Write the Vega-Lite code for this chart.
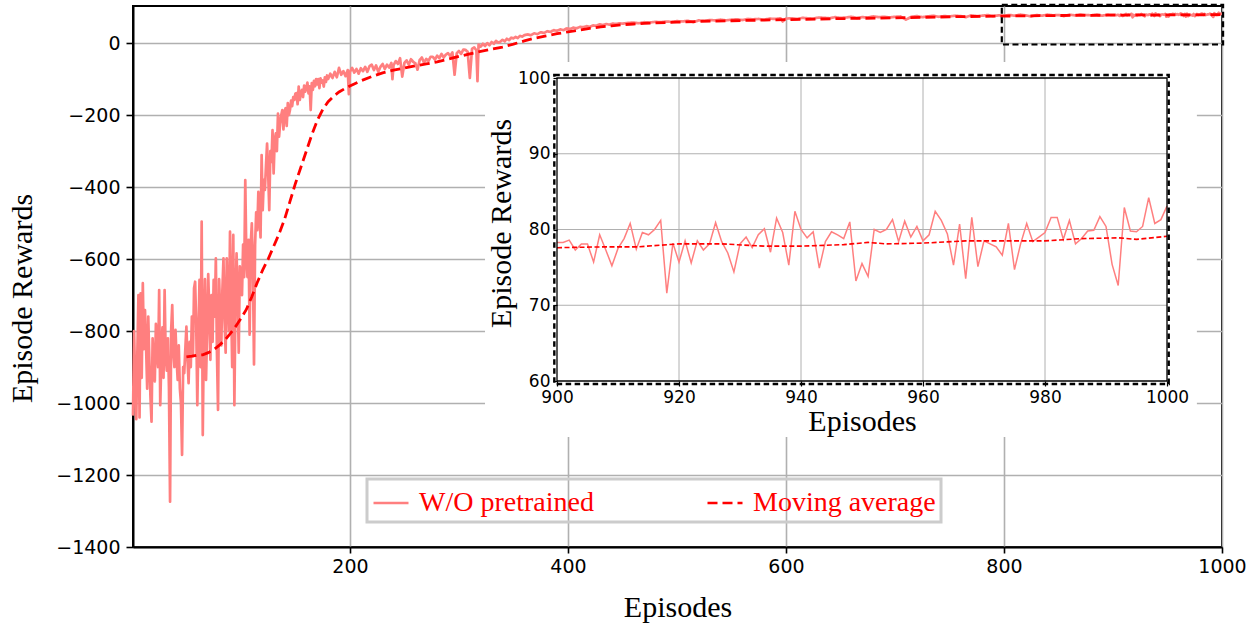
{
"$schema": "https://vega.github.io/schema/vega-lite/v6.json",
"width": 1089, "height": 541,
"autosize": {"type": "none"},
"padding": {"left": 133, "top": 6, "right": 35, "bottom": 76},
"background": "white",
"config": {
  "view": {"stroke": "black", "strokeWidth": 2},
  "axis": {"labelFont": "DejaVu Sans", "labelColor": "black", "tickColor": "black", "domainColor": "black", "titleFont": "Liberation Serif", "titleFontWeight": "normal", "titleColor": "black", "labelFlush": false, "format": "d"},
  "legend": {"strokeColor": "#cccccc", "strokeWidth": 3}
},
"datasets": {
"d": [
{"e":1,"r":-1035,"s":"W/O pretrained"},{"e":2,"r":-800,"s":"W/O pretrained"},{"e":3,"r":-940,"s":"W/O pretrained"},{"e":4,"r":-1045,"s":"W/O pretrained"},{"e":5,"r":-860,"s":"W/O pretrained"},{"e":6,"r":-700,"s":"W/O pretrained"},{"e":7,"r":-1040,"s":"W/O pretrained"},{"e":8,"r":-695,"s":"W/O pretrained"},{"e":9,"r":-930,"s":"W/O pretrained"},{"e":10,"r":-667,"s":"W/O pretrained"},
{"e":11,"r":-850,"s":"W/O pretrained"},{"e":12,"r":-742,"s":"W/O pretrained"},{"e":13,"r":-843,"s":"W/O pretrained"},{"e":14,"r":-960,"s":"W/O pretrained"},{"e":15,"r":-760,"s":"W/O pretrained"},{"e":16,"r":-880,"s":"W/O pretrained"},{"e":17,"r":-982,"s":"W/O pretrained"},{"e":18,"r":-1052,"s":"W/O pretrained"},{"e":19,"r":-820,"s":"W/O pretrained"},{"e":20,"r":-900,"s":"W/O pretrained"},
{"e":21,"r":-940,"s":"W/O pretrained"},{"e":22,"r":-780,"s":"W/O pretrained"},{"e":23,"r":-860,"s":"W/O pretrained"},{"e":24,"r":-900,"s":"W/O pretrained"},{"e":25,"r":-686,"s":"W/O pretrained"},{"e":26,"r":-1006,"s":"W/O pretrained"},{"e":27,"r":-880,"s":"W/O pretrained"},{"e":28,"r":-790,"s":"W/O pretrained"},{"e":29,"r":-930,"s":"W/O pretrained"},{"e":30,"r":-686,"s":"W/O pretrained"},
{"e":31,"r":-870,"s":"W/O pretrained"},{"e":32,"r":-910,"s":"W/O pretrained"},{"e":33,"r":-820,"s":"W/O pretrained"},{"e":34,"r":-960,"s":"W/O pretrained"},{"e":35,"r":-1274,"s":"W/O pretrained"},{"e":36,"r":-797,"s":"W/O pretrained"},{"e":37,"r":-728,"s":"W/O pretrained"},{"e":38,"r":-860,"s":"W/O pretrained"},{"e":39,"r":-900,"s":"W/O pretrained"},{"e":40,"r":-797,"s":"W/O pretrained"},
{"e":41,"r":-880,"s":"W/O pretrained"},{"e":42,"r":-936,"s":"W/O pretrained"},{"e":43,"r":-840,"s":"W/O pretrained"},{"e":44,"r":-960,"s":"W/O pretrained"},{"e":45,"r":-1000,"s":"W/O pretrained"},{"e":46,"r":-1144,"s":"W/O pretrained"},{"e":47,"r":-900,"s":"W/O pretrained"},{"e":48,"r":-917,"s":"W/O pretrained"},{"e":49,"r":-850,"s":"W/O pretrained"},{"e":50,"r":-788,"s":"W/O pretrained"},
{"e":51,"r":-880,"s":"W/O pretrained"},{"e":52,"r":-945,"s":"W/O pretrained"},{"e":53,"r":-830,"s":"W/O pretrained"},{"e":54,"r":-900,"s":"W/O pretrained"},{"e":55,"r":-760,"s":"W/O pretrained"},{"e":56,"r":-870,"s":"W/O pretrained"},{"e":57,"r":-681,"s":"W/O pretrained"},{"e":58,"r":-663,"s":"W/O pretrained"},{"e":59,"r":-780,"s":"W/O pretrained"},{"e":60,"r":-1006,"s":"W/O pretrained"},
{"e":61,"r":-820,"s":"W/O pretrained"},{"e":62,"r":-658,"s":"W/O pretrained"},{"e":63,"r":-900,"s":"W/O pretrained"},{"e":64,"r":-496,"s":"W/O pretrained"},{"e":65,"r":-1089,"s":"W/O pretrained"},{"e":66,"r":-810,"s":"W/O pretrained"},{"e":67,"r":-656,"s":"W/O pretrained"},{"e":68,"r":-936,"s":"W/O pretrained"},{"e":69,"r":-800,"s":"W/O pretrained"},{"e":70,"r":-642,"s":"W/O pretrained"},
{"e":71,"r":-750,"s":"W/O pretrained"},{"e":72,"r":-880,"s":"W/O pretrained"},{"e":73,"r":-700,"s":"W/O pretrained"},{"e":74,"r":-830,"s":"W/O pretrained"},{"e":75,"r":-658,"s":"W/O pretrained"},{"e":76,"r":-760,"s":"W/O pretrained"},{"e":77,"r":-598,"s":"W/O pretrained"},{"e":78,"r":-860,"s":"W/O pretrained"},{"e":79,"r":-1019,"s":"W/O pretrained"},{"e":80,"r":-656,"s":"W/O pretrained"},
{"e":81,"r":-750,"s":"W/O pretrained"},{"e":82,"r":-840,"s":"W/O pretrained"},{"e":83,"r":-686,"s":"W/O pretrained"},{"e":84,"r":-598,"s":"W/O pretrained"},{"e":85,"r":-770,"s":"W/O pretrained"},{"e":86,"r":-860,"s":"W/O pretrained"},{"e":87,"r":-598,"s":"W/O pretrained"},{"e":88,"r":-705,"s":"W/O pretrained"},{"e":89,"r":-800,"s":"W/O pretrained"},{"e":90,"r":-524,"s":"W/O pretrained"},
{"e":91,"r":-720,"s":"W/O pretrained"},{"e":92,"r":-900,"s":"W/O pretrained"},{"e":93,"r":-533,"s":"W/O pretrained"},{"e":94,"r":-1006,"s":"W/O pretrained"},{"e":95,"r":-723,"s":"W/O pretrained"},{"e":96,"r":-584,"s":"W/O pretrained"},{"e":97,"r":-700,"s":"W/O pretrained"},{"e":98,"r":-860,"s":"W/O pretrained"},{"e":99,"r":-620,"s":"W/O pretrained"},{"e":100,"r":-658,"s":"W/O pretrained"},
{"e":101,"r":-700,"s":"W/O pretrained"},{"e":102,"r":-560,"s":"W/O pretrained"},{"e":103,"r":-650,"s":"W/O pretrained"},{"e":104,"r":-381,"s":"W/O pretrained"},{"e":105,"r":-600,"s":"W/O pretrained"},{"e":106,"r":-650,"s":"W/O pretrained"},{"e":107,"r":-547,"s":"W/O pretrained"},{"e":108,"r":-810,"s":"W/O pretrained"},{"e":109,"r":-560,"s":"W/O pretrained"},{"e":110,"r":-501,"s":"W/O pretrained"},
{"e":111,"r":-620,"s":"W/O pretrained"},{"e":112,"r":-893,"s":"W/O pretrained"},{"e":113,"r":-560,"s":"W/O pretrained"},{"e":114,"r":-470,"s":"W/O pretrained"},{"e":115,"r":-520,"s":"W/O pretrained"},{"e":116,"r":-413,"s":"W/O pretrained"},{"e":117,"r":-480,"s":"W/O pretrained"},{"e":118,"r":-540,"s":"W/O pretrained"},{"e":119,"r":-311,"s":"W/O pretrained"},{"e":120,"r":-464,"s":"W/O pretrained"},
{"e":121,"r":-380,"s":"W/O pretrained"},{"e":122,"r":-408,"s":"W/O pretrained"},{"e":123,"r":-340,"s":"W/O pretrained"},{"e":124,"r":-279,"s":"W/O pretrained"},{"e":125,"r":-360,"s":"W/O pretrained"},{"e":126,"r":-464,"s":"W/O pretrained"},{"e":127,"r":-300,"s":"W/O pretrained"},{"e":128,"r":-330,"s":"W/O pretrained"},{"e":129,"r":-242,"s":"W/O pretrained"},{"e":130,"r":-362,"s":"W/O pretrained"},
{"e":131,"r":-270,"s":"W/O pretrained"},{"e":132,"r":-251,"s":"W/O pretrained"},{"e":133,"r":-300,"s":"W/O pretrained"},{"e":134,"r":-196,"s":"W/O pretrained"},{"e":135,"r":-260,"s":"W/O pretrained"},{"e":136,"r":-223,"s":"W/O pretrained"},{"e":137,"r":-200,"s":"W/O pretrained"},{"e":138,"r":-186,"s":"W/O pretrained"},{"e":139,"r":-240,"s":"W/O pretrained"},{"e":140,"r":-190,"s":"W/O pretrained"},
{"e":141,"r":-181,"s":"W/O pretrained"},{"e":142,"r":-230,"s":"W/O pretrained"},{"e":143,"r":-167,"s":"W/O pretrained"},{"e":144,"r":-200,"s":"W/O pretrained"},{"e":145,"r":-186,"s":"W/O pretrained"},{"e":146,"r":-160,"s":"W/O pretrained"},{"e":147,"r":-175,"s":"W/O pretrained"},{"e":148,"r":-150,"s":"W/O pretrained"},{"e":149,"r":-158,"s":"W/O pretrained"},{"e":150,"r":-140,"s":"W/O pretrained"},
{"e":151,"r":-139,"s":"W/O pretrained"},{"e":152,"r":-170,"s":"W/O pretrained"},{"e":153,"r":-121,"s":"W/O pretrained"},{"e":154,"r":-158,"s":"W/O pretrained"},{"e":155,"r":-140,"s":"W/O pretrained"},{"e":156,"r":-130,"s":"W/O pretrained"},{"e":157,"r":-150,"s":"W/O pretrained"},{"e":158,"r":-118,"s":"W/O pretrained"},{"e":159,"r":-135,"s":"W/O pretrained"},{"e":160,"r":-125,"s":"W/O pretrained"},
{"e":161,"r":-110,"s":"W/O pretrained"},{"e":162,"r":-140,"s":"W/O pretrained"},{"e":163,"r":-120,"s":"W/O pretrained"},{"e":164,"r":-186,"s":"W/O pretrained"},{"e":165,"r":-111,"s":"W/O pretrained"},{"e":166,"r":-130,"s":"W/O pretrained"},{"e":167,"r":-105,"s":"W/O pretrained"},{"e":168,"r":-120,"s":"W/O pretrained"},{"e":169,"r":-100,"s":"W/O pretrained"},{"e":170,"r":-115,"s":"W/O pretrained"},
{"e":171,"r":-100,"s":"W/O pretrained"},{"e":172,"r":-125,"s":"W/O pretrained"},{"e":173,"r":-98,"s":"W/O pretrained"},{"e":174,"r":-110,"s":"W/O pretrained"},{"e":175,"r":-104,"s":"W/O pretrained"},{"e":176,"r":-121,"s":"W/O pretrained"},{"e":177,"r":-95,"s":"W/O pretrained"},{"e":178,"r":-108,"s":"W/O pretrained"},{"e":179,"r":-90,"s":"W/O pretrained"},{"e":180,"r":-100,"s":"W/O pretrained"},
{"e":182,"r":-85,"s":"W/O pretrained"},{"e":184,"r":-97,"s":"W/O pretrained"},{"e":186,"r":-80,"s":"W/O pretrained"},{"e":188,"r":-95,"s":"W/O pretrained"},{"e":190,"r":-69,"s":"W/O pretrained"},{"e":192,"r":-88,"s":"W/O pretrained"},{"e":194,"r":-78,"s":"W/O pretrained"},{"e":196,"r":-92,"s":"W/O pretrained"},{"e":198,"r":-75,"s":"W/O pretrained"},{"e":199,"r":-142,"s":"W/O pretrained"},
{"e":200,"r":-80,"s":"W/O pretrained"},{"e":202,"r":-69,"s":"W/O pretrained"},{"e":204,"r":-82,"s":"W/O pretrained"},{"e":206,"r":-72,"s":"W/O pretrained"},{"e":208,"r":-85,"s":"W/O pretrained"},{"e":210,"r":-70,"s":"W/O pretrained"},{"e":212,"r":-78,"s":"W/O pretrained"},{"e":214,"r":-66,"s":"W/O pretrained"},{"e":216,"r":-80,"s":"W/O pretrained"},{"e":218,"r":-64,"s":"W/O pretrained"},
{"e":220,"r":-60,"s":"W/O pretrained"},{"e":222,"r":-75,"s":"W/O pretrained"},{"e":224,"r":-62,"s":"W/O pretrained"},{"e":226,"r":-80,"s":"W/O pretrained"},{"e":228,"r":-66,"s":"W/O pretrained"},{"e":230,"r":-58,"s":"W/O pretrained"},{"e":232,"r":-72,"s":"W/O pretrained"},{"e":234,"r":-60,"s":"W/O pretrained"},{"e":236,"r":-68,"s":"W/O pretrained"},{"e":238,"r":-55,"s":"W/O pretrained"},
{"e":239,"r":-100,"s":"W/O pretrained"},{"e":240,"r":-62,"s":"W/O pretrained"},{"e":242,"r":-50,"s":"W/O pretrained"},{"e":244,"r":-58,"s":"W/O pretrained"},{"e":246,"r":-42,"s":"W/O pretrained"},{"e":248,"r":-93,"s":"W/O pretrained"},{"e":250,"r":-55,"s":"W/O pretrained"},{"e":252,"r":-48,"s":"W/O pretrained"},{"e":254,"r":-60,"s":"W/O pretrained"},{"e":256,"r":-45,"s":"W/O pretrained"},
{"e":258,"r":-52,"s":"W/O pretrained"},{"e":260,"r":-56,"s":"W/O pretrained"},{"e":262,"r":-74,"s":"W/O pretrained"},{"e":264,"r":-47,"s":"W/O pretrained"},{"e":266,"r":-40,"s":"W/O pretrained"},{"e":268,"r":-55,"s":"W/O pretrained"},{"e":270,"r":-44,"s":"W/O pretrained"},{"e":272,"r":-50,"s":"W/O pretrained"},{"e":274,"r":-38,"s":"W/O pretrained"},{"e":276,"r":-38,"s":"W/O pretrained"},
{"e":278,"r":-46,"s":"W/O pretrained"},{"e":280,"r":-35,"s":"W/O pretrained"},{"e":282,"r":-42,"s":"W/O pretrained"},{"e":284,"r":-30,"s":"W/O pretrained"},{"e":286,"r":-40,"s":"W/O pretrained"},{"e":288,"r":-32,"s":"W/O pretrained"},{"e":290,"r":-28,"s":"W/O pretrained"},{"e":292,"r":-36,"s":"W/O pretrained"},{"e":294,"r":-26,"s":"W/O pretrained"},{"e":296,"r":-88,"s":"W/O pretrained"},
{"e":298,"r":-28,"s":"W/O pretrained"},{"e":300,"r":-22,"s":"W/O pretrained"},{"e":302,"r":-30,"s":"W/O pretrained"},{"e":304,"r":-18,"s":"W/O pretrained"},{"e":306,"r":-19,"s":"W/O pretrained"},{"e":308,"r":-24,"s":"W/O pretrained"},{"e":310,"r":-97,"s":"W/O pretrained"},{"e":312,"r":-16,"s":"W/O pretrained"},{"e":314,"r":-12,"s":"W/O pretrained"},{"e":316,"r":-20,"s":"W/O pretrained"},
{"e":317,"r":-106,"s":"W/O pretrained"},{"e":318,"r":-4,"s":"W/O pretrained"},{"e":320,"r":-10,"s":"W/O pretrained"},{"e":322,"r":-2,"s":"W/O pretrained"},{"e":324,"r":-8,"s":"W/O pretrained"},{"e":326,"r":0,"s":"W/O pretrained"},{"e":328,"r":-6,"s":"W/O pretrained"},{"e":330,"r":3,"s":"W/O pretrained"},{"e":332,"r":-2,"s":"W/O pretrained"},{"e":334,"r":6,"s":"W/O pretrained"},
{"e":336,"r":1,"s":"W/O pretrained"},{"e":338,"r":4,"s":"W/O pretrained"},{"e":340,"r":9,"s":"W/O pretrained"},{"e":342,"r":5,"s":"W/O pretrained"},{"e":344,"r":12,"s":"W/O pretrained"},{"e":346,"r":8,"s":"W/O pretrained"},{"e":348,"r":15,"s":"W/O pretrained"},{"e":350,"r":13,"s":"W/O pretrained"},{"e":352,"r":17,"s":"W/O pretrained"},{"e":354,"r":14,"s":"W/O pretrained"},
{"e":356,"r":20,"s":"W/O pretrained"},{"e":358,"r":18,"s":"W/O pretrained"},{"e":360,"r":22,"s":"W/O pretrained"},{"e":363,"r":24,"s":"W/O pretrained"},{"e":366,"r":22,"s":"W/O pretrained"},{"e":369,"r":27,"s":"W/O pretrained"},{"e":372,"r":25,"s":"W/O pretrained"},{"e":375,"r":30,"s":"W/O pretrained"},{"e":378,"r":28,"s":"W/O pretrained"},{"e":381,"r":33,"s":"W/O pretrained"},
{"e":384,"r":31,"s":"W/O pretrained"},{"e":387,"r":36,"s":"W/O pretrained"},{"e":390,"r":34,"s":"W/O pretrained"},{"e":393,"r":38,"s":"W/O pretrained"},{"e":396,"r":36,"s":"W/O pretrained"},{"e":399,"r":41,"s":"W/O pretrained"},{"e":402,"r":39,"s":"W/O pretrained"},{"e":405,"r":43,"s":"W/O pretrained"},{"e":408,"r":41,"s":"W/O pretrained"},{"e":411,"r":45,"s":"W/O pretrained"},
{"e":414,"r":44,"s":"W/O pretrained"},{"e":417,"r":47,"s":"W/O pretrained"},{"e":420,"r":45,"s":"W/O pretrained"},{"e":423,"r":49,"s":"W/O pretrained"},{"e":426,"r":48,"s":"W/O pretrained"},{"e":429,"r":52,"s":"W/O pretrained"},{"e":432,"r":50,"s":"W/O pretrained"},{"e":435,"r":53,"s":"W/O pretrained"},{"e":438,"r":51,"s":"W/O pretrained"},{"e":441,"r":54,"s":"W/O pretrained"},
{"e":444,"r":53,"s":"W/O pretrained"},{"e":447,"r":55,"s":"W/O pretrained"},{"e":450,"r":54,"s":"W/O pretrained"},{"e":455,"r":56,"s":"W/O pretrained"},{"e":460,"r":57,"s":"W/O pretrained"},{"e":465,"r":55,"s":"W/O pretrained"},{"e":470,"r":58,"s":"W/O pretrained"},{"e":475,"r":57,"s":"W/O pretrained"},{"e":480,"r":59,"s":"W/O pretrained"},{"e":485,"r":58,"s":"W/O pretrained"},
{"e":490,"r":60,"s":"W/O pretrained"},{"e":495,"r":59,"s":"W/O pretrained"},{"e":500,"r":61,"s":"W/O pretrained"},{"e":505,"r":60,"s":"W/O pretrained"},{"e":510,"r":62,"s":"W/O pretrained"},{"e":515,"r":58,"s":"W/O pretrained"},{"e":520,"r":63,"s":"W/O pretrained"},{"e":525,"r":62,"s":"W/O pretrained"},{"e":530,"r":64,"s":"W/O pretrained"},{"e":535,"r":63,"s":"W/O pretrained"},
{"e":540,"r":65,"s":"W/O pretrained"},{"e":545,"r":63,"s":"W/O pretrained"},{"e":550,"r":65,"s":"W/O pretrained"},{"e":555,"r":66,"s":"W/O pretrained"},{"e":560,"r":64,"s":"W/O pretrained"},{"e":565,"r":67,"s":"W/O pretrained"},{"e":570,"r":66,"s":"W/O pretrained"},{"e":575,"r":67,"s":"W/O pretrained"},{"e":580,"r":65,"s":"W/O pretrained"},{"e":585,"r":68,"s":"W/O pretrained"},
{"e":590,"r":67,"s":"W/O pretrained"},{"e":595,"r":69,"s":"W/O pretrained"},{"e":597,"r":60,"s":"W/O pretrained"},{"e":600,"r":68,"s":"W/O pretrained"},{"e":605,"r":69,"s":"W/O pretrained"},{"e":610,"r":67,"s":"W/O pretrained"},{"e":615,"r":70,"s":"W/O pretrained"},{"e":620,"r":69,"s":"W/O pretrained"},{"e":625,"r":68,"s":"W/O pretrained"},{"e":630,"r":71,"s":"W/O pretrained"},
{"e":635,"r":70,"s":"W/O pretrained"},{"e":640,"r":69,"s":"W/O pretrained"},{"e":645,"r":72,"s":"W/O pretrained"},{"e":650,"r":70,"s":"W/O pretrained"},{"e":655,"r":71,"s":"W/O pretrained"},{"e":660,"r":73,"s":"W/O pretrained"},{"e":665,"r":70,"s":"W/O pretrained"},{"e":670,"r":72,"s":"W/O pretrained"},{"e":675,"r":71,"s":"W/O pretrained"},{"e":680,"r":74,"s":"W/O pretrained"},
{"e":685,"r":72,"s":"W/O pretrained"},{"e":690,"r":73,"s":"W/O pretrained"},{"e":695,"r":71,"s":"W/O pretrained"},{"e":700,"r":73,"s":"W/O pretrained"},{"e":705,"r":74,"s":"W/O pretrained"},{"e":710,"r":65,"s":"W/O pretrained"},{"e":715,"r":73,"s":"W/O pretrained"},{"e":720,"r":75,"s":"W/O pretrained"},{"e":725,"r":72,"s":"W/O pretrained"},{"e":730,"r":74,"s":"W/O pretrained"},
{"e":735,"r":76,"s":"W/O pretrained"},{"e":740,"r":73,"s":"W/O pretrained"},{"e":745,"r":75,"s":"W/O pretrained"},{"e":750,"r":74,"s":"W/O pretrained"},{"e":755,"r":76,"s":"W/O pretrained"},{"e":760,"r":75,"s":"W/O pretrained"},{"e":765,"r":72,"s":"W/O pretrained"},{"e":770,"r":77,"s":"W/O pretrained"},{"e":775,"r":75,"s":"W/O pretrained"},{"e":780,"r":76,"s":"W/O pretrained"},
{"e":785,"r":78,"s":"W/O pretrained"},{"e":790,"r":75,"s":"W/O pretrained"},{"e":795,"r":77,"s":"W/O pretrained"},{"e":800,"r":76,"s":"W/O pretrained"},{"e":805,"r":78,"s":"W/O pretrained"},{"e":810,"r":76,"s":"W/O pretrained"},{"e":815,"r":79,"s":"W/O pretrained"},{"e":820,"r":77,"s":"W/O pretrained"},{"e":825,"r":74,"s":"W/O pretrained"},{"e":830,"r":78,"s":"W/O pretrained"},
{"e":835,"r":76,"s":"W/O pretrained"},{"e":840,"r":79,"s":"W/O pretrained"},{"e":845,"r":77,"s":"W/O pretrained"},{"e":850,"r":78,"s":"W/O pretrained"},{"e":855,"r":75,"s":"W/O pretrained"},{"e":860,"r":79,"s":"W/O pretrained"},{"e":865,"r":77,"s":"W/O pretrained"},{"e":870,"r":80,"s":"W/O pretrained"},{"e":875,"r":78,"s":"W/O pretrained"},{"e":880,"r":77,"s":"W/O pretrained"},
{"e":885,"r":79,"s":"W/O pretrained"},{"e":890,"r":76,"s":"W/O pretrained"},{"e":895,"r":79,"s":"W/O pretrained"},
{"e":900,"r":78.3,"s":"W/O pretrained"},{"e":901,"r":78.3,"s":"W/O pretrained"},{"e":902,"r":78.6,"s":"W/O pretrained"},{"e":903,"r":77.3,"s":"W/O pretrained"},{"e":904,"r":78.1,"s":"W/O pretrained"},{"e":905,"r":78.1,"s":"W/O pretrained"},{"e":906,"r":75.7,"s":"W/O pretrained"},{"e":907,"r":79.3,"s":"W/O pretrained"},{"e":908,"r":77.3,"s":"W/O pretrained"},{"e":909,"r":75.2,"s":"W/O pretrained"},
{"e":910,"r":77.5,"s":"W/O pretrained"},{"e":911,"r":78.8,"s":"W/O pretrained"},{"e":912,"r":80.8,"s":"W/O pretrained"},{"e":913,"r":77.4,"s":"W/O pretrained"},{"e":914,"r":79.6,"s":"W/O pretrained"},{"e":915,"r":79.3,"s":"W/O pretrained"},{"e":916,"r":80.0,"s":"W/O pretrained"},{"e":917,"r":81.2,"s":"W/O pretrained"},{"e":918,"r":71.6,"s":"W/O pretrained"},{"e":919,"r":78.2,"s":"W/O pretrained"},
{"e":920,"r":75.7,"s":"W/O pretrained"},{"e":921,"r":78.5,"s":"W/O pretrained"},{"e":922,"r":75.6,"s":"W/O pretrained"},{"e":923,"r":78.5,"s":"W/O pretrained"},{"e":924,"r":77.3,"s":"W/O pretrained"},{"e":925,"r":78.1,"s":"W/O pretrained"},{"e":926,"r":80.9,"s":"W/O pretrained"},{"e":927,"r":78.4,"s":"W/O pretrained"},{"e":928,"r":76.9,"s":"W/O pretrained"},{"e":929,"r":74.4,"s":"W/O pretrained"},
{"e":930,"r":78.1,"s":"W/O pretrained"},{"e":931,"r":79.0,"s":"W/O pretrained"},{"e":932,"r":77.6,"s":"W/O pretrained"},{"e":933,"r":79.3,"s":"W/O pretrained"},{"e":934,"r":80.1,"s":"W/O pretrained"},{"e":935,"r":77.0,"s":"W/O pretrained"},{"e":936,"r":81.5,"s":"W/O pretrained"},{"e":937,"r":79.6,"s":"W/O pretrained"},{"e":938,"r":75.3,"s":"W/O pretrained"},{"e":939,"r":82.4,"s":"W/O pretrained"},
{"e":940,"r":80.0,"s":"W/O pretrained"},{"e":941,"r":78.9,"s":"W/O pretrained"},{"e":942,"r":79.7,"s":"W/O pretrained"},{"e":943,"r":74.9,"s":"W/O pretrained"},{"e":944,"r":78.4,"s":"W/O pretrained"},{"e":945,"r":79.7,"s":"W/O pretrained"},{"e":946,"r":79.3,"s":"W/O pretrained"},{"e":947,"r":78.8,"s":"W/O pretrained"},{"e":948,"r":81.0,"s":"W/O pretrained"},{"e":949,"r":73.2,"s":"W/O pretrained"},
{"e":950,"r":75.5,"s":"W/O pretrained"},{"e":951,"r":73.8,"s":"W/O pretrained"},{"e":952,"r":80.0,"s":"W/O pretrained"},{"e":953,"r":79.6,"s":"W/O pretrained"},{"e":954,"r":80.0,"s":"W/O pretrained"},{"e":955,"r":81.3,"s":"W/O pretrained"},{"e":956,"r":78.4,"s":"W/O pretrained"},{"e":957,"r":81.1,"s":"W/O pretrained"},{"e":958,"r":79.0,"s":"W/O pretrained"},{"e":959,"r":80.4,"s":"W/O pretrained"},
{"e":960,"r":78.5,"s":"W/O pretrained"},{"e":961,"r":79.3,"s":"W/O pretrained"},{"e":962,"r":82.4,"s":"W/O pretrained"},{"e":963,"r":81.2,"s":"W/O pretrained"},{"e":964,"r":79.4,"s":"W/O pretrained"},{"e":965,"r":75.3,"s":"W/O pretrained"},{"e":966,"r":80.7,"s":"W/O pretrained"},{"e":967,"r":73.5,"s":"W/O pretrained"},{"e":968,"r":81.6,"s":"W/O pretrained"},{"e":969,"r":75.1,"s":"W/O pretrained"},
{"e":970,"r":78.5,"s":"W/O pretrained"},{"e":971,"r":78.1,"s":"W/O pretrained"},{"e":972,"r":77.7,"s":"W/O pretrained"},{"e":973,"r":76.6,"s":"W/O pretrained"},{"e":974,"r":80.8,"s":"W/O pretrained"},{"e":975,"r":74.7,"s":"W/O pretrained"},{"e":976,"r":78.1,"s":"W/O pretrained"},{"e":977,"r":80.8,"s":"W/O pretrained"},{"e":978,"r":78.4,"s":"W/O pretrained"},{"e":979,"r":79.0,"s":"W/O pretrained"},
{"e":980,"r":79.6,"s":"W/O pretrained"},{"e":981,"r":81.6,"s":"W/O pretrained"},{"e":982,"r":81.6,"s":"W/O pretrained"},{"e":983,"r":78.7,"s":"W/O pretrained"},{"e":984,"r":81.2,"s":"W/O pretrained"},{"e":985,"r":78.1,"s":"W/O pretrained"},{"e":986,"r":78.8,"s":"W/O pretrained"},{"e":987,"r":79.8,"s":"W/O pretrained"},{"e":988,"r":79.9,"s":"W/O pretrained"},{"e":989,"r":81.7,"s":"W/O pretrained"},
{"e":990,"r":80.4,"s":"W/O pretrained"},{"e":991,"r":75.4,"s":"W/O pretrained"},{"e":992,"r":72.6,"s":"W/O pretrained"},{"e":993,"r":82.9,"s":"W/O pretrained"},{"e":994,"r":79.8,"s":"W/O pretrained"},{"e":995,"r":79.7,"s":"W/O pretrained"},{"e":996,"r":80.4,"s":"W/O pretrained"},{"e":997,"r":84.2,"s":"W/O pretrained"},{"e":998,"r":80.8,"s":"W/O pretrained"},{"e":999,"r":81.3,"s":"W/O pretrained"},
{"e":1000,"r":83.1,"s":"W/O pretrained"},
{"e":50,"r":-872,"s":"Moving average"},{"e":55,"r":-870,"s":"Moving average"},{"e":60,"r":-867,"s":"Moving average"},{"e":65,"r":-866,"s":"Moving average"},{"e":70,"r":-860,"s":"Moving average"},{"e":75,"r":-852,"s":"Moving average"},{"e":80,"r":-840,"s":"Moving average"},{"e":85,"r":-826,"s":"Moving average"},{"e":90,"r":-808,"s":"Moving average"},{"e":95,"r":-788,"s":"Moving average"},
{"e":100,"r":-765,"s":"Moving average"},{"e":105,"r":-740,"s":"Moving average"},{"e":110,"r":-705,"s":"Moving average"},{"e":115,"r":-665,"s":"Moving average"},{"e":120,"r":-630,"s":"Moving average"},{"e":125,"r":-600,"s":"Moving average"},{"e":130,"r":-565,"s":"Moving average"},{"e":135,"r":-530,"s":"Moving average"},{"e":140,"r":-490,"s":"Moving average"},{"e":145,"r":-440,"s":"Moving average"},
{"e":150,"r":-390,"s":"Moving average"},{"e":155,"r":-345,"s":"Moving average"},{"e":160,"r":-300,"s":"Moving average"},{"e":165,"r":-255,"s":"Moving average"},{"e":170,"r":-215,"s":"Moving average"},{"e":175,"r":-185,"s":"Moving average"},{"e":180,"r":-163,"s":"Moving average"},{"e":185,"r":-148,"s":"Moving average"},{"e":190,"r":-136,"s":"Moving average"},{"e":195,"r":-127,"s":"Moving average"},
{"e":200,"r":-119,"s":"Moving average"},{"e":210,"r":-105,"s":"Moving average"},{"e":220,"r":-93,"s":"Moving average"},{"e":230,"r":-83,"s":"Moving average"},{"e":240,"r":-75,"s":"Moving average"},{"e":250,"r":-69,"s":"Moving average"},{"e":260,"r":-63,"s":"Moving average"},{"e":270,"r":-58,"s":"Moving average"},{"e":280,"r":-52,"s":"Moving average"},{"e":290,"r":-45,"s":"Moving average"},
{"e":300,"r":-37,"s":"Moving average"},{"e":310,"r":-30,"s":"Moving average"},{"e":320,"r":-23,"s":"Moving average"},{"e":330,"r":-17,"s":"Moving average"},{"e":340,"r":-11,"s":"Moving average"},{"e":350,"r":-3,"s":"Moving average"},{"e":360,"r":6,"s":"Moving average"},{"e":370,"r":14,"s":"Moving average"},{"e":380,"r":20,"s":"Moving average"},{"e":390,"r":26,"s":"Moving average"},
{"e":400,"r":31,"s":"Moving average"},{"e":410,"r":36,"s":"Moving average"},{"e":420,"r":41,"s":"Moving average"},{"e":430,"r":45,"s":"Moving average"},{"e":440,"r":48,"s":"Moving average"},{"e":450,"r":51,"s":"Moving average"},{"e":460,"r":53,"s":"Moving average"},{"e":470,"r":55,"s":"Moving average"},{"e":480,"r":56,"s":"Moving average"},{"e":500,"r":58,"s":"Moving average"},
{"e":520,"r":60,"s":"Moving average"},{"e":550,"r":62,"s":"Moving average"},{"e":580,"r":64,"s":"Moving average"},{"e":600,"r":65,"s":"Moving average"},{"e":650,"r":68,"s":"Moving average"},{"e":700,"r":70,"s":"Moving average"},{"e":750,"r":73,"s":"Moving average"},{"e":800,"r":75,"s":"Moving average"},{"e":850,"r":76.5,"s":"Moving average"},{"e":875,"r":77.1,"s":"Moving average"},
{"e":900,"r":77.6,"s":"Moving average"},{"e":907,"r":77.7,"s":"Moving average"},{"e":913,"r":77.7,"s":"Moving average"},{"e":920,"r":78.1,"s":"Moving average"},{"e":927,"r":78.1,"s":"Moving average"},{"e":934,"r":77.8,"s":"Moving average"},{"e":940,"r":77.8,"s":"Moving average"},{"e":947,"r":78.0,"s":"Moving average"},{"e":951,"r":78.3,"s":"Moving average"},{"e":954,"r":78.1,"s":"Moving average"},
{"e":960,"r":78.2,"s":"Moving average"},{"e":967,"r":78.5,"s":"Moving average"},{"e":974,"r":78.5,"s":"Moving average"},{"e":980,"r":78.5,"s":"Moving average"},{"e":986,"r":78.8,"s":"Moving average"},{"e":992,"r":78.9,"s":"Moving average"},{"e":995,"r":78.7,"s":"Moving average"},{"e":1000,"r":79.1,"s":"Moving average"}
]
},
"data": {"name": "d"},
"layer": [
 {
  "layer": [
   {
    "transform": [{"filter": "datum.s == 'W/O pretrained'"}],
    "mark": {"type": "line", "strokeWidth": 2.7, "strokeJoin": "round"},
    "encoding": {
     "x": {"field": "e", "type": "quantitative", "title": "Episodes", "scale": {"domain": [1, 1000], "nice": false, "zero": false},
           "axis": {"values": [200, 400, 600, 800, 1000], "labelFontSize": 19, "tickSize": 6, "tickWidth": 1.6, "labelPadding": 4, "titleFontSize": 30, "titlePadding": 16, "gridColor": "#b0b0b0", "gridWidth": 1.6, "domainWidth": 2}},
     "y": {"field": "r", "type": "quantitative", "title": "Episode Rewards", "scale": {"domain": [-1400, 103], "nice": false, "zero": false},
           "axis": {"values": [-1400, -1200, -1000, -800, -600, -400, -200, 0], "labelFontSize": 19, "tickSize": 7, "tickWidth": 1.6, "labelPadding": 6, "titleFontSize": 30, "titlePadding": 18, "titleY": 292, "gridColor": "#b0b0b0", "gridWidth": 1.6, "domainWidth": 2}},
     "color": {"field": "s", "type": "nominal", "scale": {"domain": ["W/O pretrained", "Moving average"], "range": ["#ff7f7f", "#ff0000"]},
               "legend": {"title": null, "orient": "none", "legendX": 234, "legendY": 473, "direction": "horizontal", "symbolType": "stroke", "symbolSize": 1225, "symbolStrokeWidth": 2.7, "labelFont": "Liberation Serif", "labelFontSize": 28, "labelColor": "#ff0000", "labelOffset": 9, "columnPadding": 108, "padding": 5, "strokeColor": "#cccccc", "labelLimit": 400}},
     "strokeDash": {"field": "s", "type": "nominal", "scale": {"domain": ["W/O pretrained", "Moving average"], "range": [[1, 0], [10, 5]]},
               "legend": {"title": null, "orient": "none", "legendX": 234, "legendY": 473, "direction": "horizontal", "symbolType": "stroke", "symbolSize": 1225, "symbolStrokeWidth": 2.7, "labelFont": "Liberation Serif", "labelFontSize": 28, "labelColor": "#ff0000", "labelOffset": 9, "columnPadding": 108, "padding": 5, "strokeColor": "#cccccc", "labelLimit": 400}}
    }
   },
   {
    "transform": [{"filter": "datum.s == 'Moving average'"}],
    "mark": {"type": "line", "strokeWidth": 2.8},
    "encoding": {
     "x": {"field": "e", "type": "quantitative", "title": "Episodes"},
     "y": {"field": "r", "type": "quantitative", "title": "Episode Rewards"},
     "color": {"field": "s", "type": "nominal"},
     "strokeDash": {"field": "s", "type": "nominal"}
    }
   },
   {
    "data": {"values": [{}]},
    "mark": {"type": "rect", "fill": "transparent", "stroke": "black", "strokeWidth": 2.2, "strokeDash": [6, 3.5]},
    "encoding": {
     "x": {"datum": 798, "type": "quantitative", "title": "Episodes"},
     "x2": {"datum": 1001},
     "y": {"datum": -4, "type": "quantitative", "title": "Episode Rewards"},
     "y2": {"datum": 106}
    }
   }
  ]
 },
 {
  "layer": [
   {
    "data": {"values": [{}]},
    "mark": {"type": "rect", "fill": "white", "strokeWidth": 0},
    "encoding": {
     "x": {"datum": 888.2, "type": "quantitative", "title": "Episodes", "scale": {"domain": [900, 1000], "range": [424, 1034], "nice": false, "zero": false}},
     "x2": {"datum": 1004.9},
     "y": {"datum": 52.6, "type": "quantitative", "title": "Episode Rewards", "scale": {"domain": [60, 100], "range": [375, 72], "nice": false, "zero": false}},
     "y2": {"datum": 102.1}
    }
   },
   {
    "data": {"values": [{"g": 920}, {"g": 940}, {"g": 960}, {"g": 980}]},
    "mark": {"type": "rule", "color": "#b0b0b0", "strokeWidth": 1},
    "encoding": {
     "x": {"field": "g", "type": "quantitative", "title": "Episodes"},
     "y": {"datum": 60, "type": "quantitative", "title": "Episode Rewards"},
     "y2": {"datum": 100}
    }
   },
   {
    "data": {"values": [{"g": 70}, {"g": 80}, {"g": 90}]},
    "mark": {"type": "rule", "color": "#b0b0b0", "strokeWidth": 1},
    "encoding": {
     "y": {"field": "g", "type": "quantitative", "title": "Episode Rewards"},
     "x": {"datum": 900, "type": "quantitative", "title": "Episodes"},
     "x2": {"datum": 1000}
    }
   },
   {
    "transform": [{"filter": "datum.s == 'W/O pretrained' && datum.e >= 900"}],
    "mark": {"type": "line", "color": "#ff7f7f", "strokeWidth": 1.5},
    "encoding": {
     "x": {"field": "e", "type": "quantitative", "title": "Episodes", "scale": {"domain": [900, 1000], "range": [424, 1034], "nice": false, "zero": false},
           "axis": {"orient": "bottom", "offset": -166, "values": [900, 920, 940, 960, 980, 1000], "grid": false, "domain": false, "labelFontSize": 17, "tickSize": 5, "tickWidth": 1.2, "labelPadding": 3, "titleFontSize": 30, "titlePadding": 1, "zindex": 1}},
     "y": {"field": "r", "type": "quantitative", "title": "Episode Rewards", "scale": {"domain": [60, 100], "range": [375, 72], "nice": false, "zero": false},
           "axis": {"orient": "left", "offset": -424, "values": [60, 70, 80, 90, 100], "grid": false, "domain": false, "labelFontSize": 17, "tickSize": 4, "tickWidth": 1.2, "labelPadding": 3, "titleFontSize": 30, "titlePadding": 1, "titleY": 217, "zindex": 1}}
    }
   },
   {
    "transform": [{"filter": "datum.s == 'Moving average' && datum.e >= 900"}],
    "mark": {"type": "line", "color": "#ff0000", "strokeWidth": 1.6, "strokeDash": [5, 2.5]},
    "encoding": {
     "x": {"field": "e", "type": "quantitative", "title": "Episodes"},
     "y": {"field": "r", "type": "quantitative", "title": "Episode Rewards"}
    }
   },
   {
    "data": {"values": [{}]},
    "mark": {"type": "rect", "fill": "transparent", "stroke": "black", "strokeWidth": 1.3},
    "encoding": {
     "x": {"datum": 900, "type": "quantitative", "title": "Episodes"},
     "x2": {"datum": 1000},
     "y": {"datum": 60, "type": "quantitative", "title": "Episode Rewards"},
     "y2": {"datum": 100}
    }
   },
   {
    "data": {"values": [{}]},
    "mark": {"type": "rect", "fill": "transparent", "stroke": "black", "strokeWidth": 2.4, "strokeDash": [5.5, 3.5]},
    "encoding": {
     "x": {"datum": 899.56, "type": "quantitative", "title": "Episodes"},
     "x2": {"datum": 1000.28},
     "y": {"datum": 59.6, "type": "quantitative", "title": "Episode Rewards"},
     "y2": {"datum": 100.4}
    }
   }
  ]
 }
],
"resolve": {"scale": {"x": "independent", "y": "independent"}, "axis": {"x": "independent", "y": "independent"}}
}
